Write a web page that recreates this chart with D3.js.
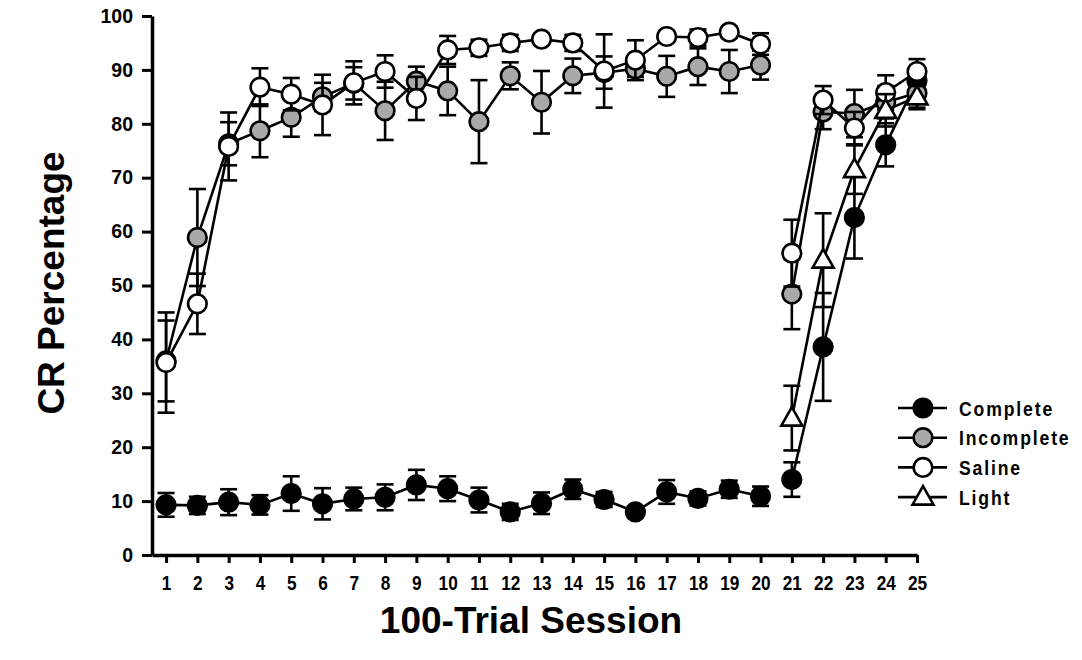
<!DOCTYPE html>
<html>
<head>
<meta charset="utf-8">
<script src="https://cdn.jsdelivr.net/npm/d3@7"></script>
<style>
  html, body { margin: 0; padding: 0; background: #fff; }
  svg { display: block; }
</style>
</head>
<body>
<svg id="chart" width="1082" height="660"></svg>
<script>
// ---------------- data ----------------
const sessions = d3.range(1, 26);
const yTicks = [0, 10, 20, 30, 40, 50, 60, 70, 80, 90, 100];
const seriesNames = ["Complete", "Incomplete", "Saline", "Light"];

const completeMean = [9.3, 9.2, 9.8, 9.3, 11.4, 9.5, 10.4, 10.7, 13.0, 12.3, 10.2, 8.0, 9.6, 12.2, 10.3, 8.0, 11.7, 10.5, 12.2, 10.9, 14.0, 38.6, 62.6, 76.1, 88.0];
const completeErr  = [2.2, 1.6, 2.4, 1.8, 3.2, 2.9, 2.1, 2.4, 2.8, 2.3, 2.3, 1.5, 2.0, 1.8, 1.4, 1.0, 2.2, 1.3, 1.6, 1.8, 3.2, 10.0, 7.6, 4.0, 2.0];

const incompleteMean = [36.0, 58.9, 76.3, 78.7, 81.2, 85.0, 87.5, 82.4, 87.9, 86.1, 80.4, 88.9, 84.0, 88.9, 89.5, 90.2, 88.8, 90.6, 89.7, 90.9, 48.4, 82.2, 81.9, 84.0, 85.7];
const incompleteErr  = [7.5, 9.0, 4.0, 4.9, 3.6, 2.6, 3.0, 5.4, 2.7, 4.5, 7.7, 2.5, 5.8, 3.2, 3.0, 1.5, 3.8, 3.4, 4.0, 2.7, 6.5, 3.2, 4.4, 3.0, 3.0];

const salineMean = [35.7, 46.6, 75.8, 86.8, 85.5, 83.5, 87.6, 89.7, 84.7, 93.7, 94.1, 95.0, 95.7, 95.0, 89.8, 91.8, 96.2, 96.0, 97.0, 94.8, 56.0, 84.4, 79.2, 85.8, 89.7];
const salineErr  = [9.3, 5.6, 6.3, 3.5, 3.0, 5.6, 4.0, 3.0, 4.0, 2.6, 1.5, 1.5, 1.0, 1.5, 6.8, 3.7, 1.0, 1.5, 1.0, 2.0, 6.2, 2.6, 3.0, 3.2, 2.3];

const lightSessions = [21, 22, 23, 24, 25];
const lightMean = [25.4, 54.7, 71.5, 82.5, 85.0];
const lightErr  = [6.0, 8.7, 4.5, 3.0, 2.0];

// sessions are plotted in two separate runs (acquisition 1-20, test 21-25)
const phaseBreak = 20;

// ---------------- layout ----------------
const svg = d3.select("#chart");
const x = d3.scaleLinear().domain([0.55, 25]).range([152, 917]);
const y = d3.scaleLinear().domain([0, 100]).range([555, 16]);

const font = "'Liberation Sans', Arial, sans-serif";

// axes
const yAxis = d3.axisLeft(y).tickValues(yTicks).tickSize(10).tickSizeOuter(0).tickPadding(9);
const gy = svg.append("g").attr("transform", `translate(${x.range()[0]},0)`).call(yAxis);
gy.select(".domain").attr("stroke", "#000").attr("stroke-width", 3.5);
gy.selectAll(".tick line").attr("stroke", "#000").attr("stroke-width", 3);
gy.selectAll(".tick text")
  .attr("font-family", font)
  .attr("font-weight", "bold").attr("font-size", 19.5).attr("fill", "#000");

const xAxis = d3.axisBottom(x).tickValues(sessions).tickSize(8).tickSizeOuter(0).tickPadding(12);
const gx = svg.append("g").attr("transform", `translate(0,${y.range()[0]})`).call(xAxis);
gx.select(".domain").attr("stroke", "#000").attr("stroke-width", 3.5);
gx.selectAll(".tick line").attr("stroke", "#000").attr("stroke-width", 3);
gx.selectAll(".tick text")
  .attr("font-family", font)
  .attr("font-weight", "bold").attr("font-size", 21).attr("fill", "#000")
  .attr("transform", "scale(0.82,1)");

// axis titles
svg.append("text")
  .attr("x", 531).attr("y", 633)
  .attr("text-anchor", "middle")
  .attr("font-family", font)
  .attr("font-weight", "bold").attr("font-size", 37)
  .text("100-Trial Session");

svg.append("text")
  .attr("transform", "translate(64,283) rotate(-90)")
  .attr("text-anchor", "middle")
  .attr("font-family", font)
  .attr("font-weight", "bold").attr("font-size", 37)
  .text("CR Percentage");

// ---------------- series ----------------
const trianglePath = "M0,-11 L10.5,7.5 L-10.5,7.5 Z";

function buildSeries(xs, means, errs) {
  return xs.map((s, i) => ({ s: s, m: means[i], e: errs[i] }));
}

const series = [
  { name: seriesNames[0], fill: "#000000", shape: "circle", data: buildSeries(sessions, completeMean, completeErr) },
  { name: seriesNames[1], fill: "#a9a9a9", shape: "circle", data: buildSeries(sessions, incompleteMean, incompleteErr) },
  { name: seriesNames[2], fill: "#ffffff", shape: "circle", data: buildSeries(sessions, salineMean, salineErr) },
  { name: seriesNames[3], fill: "#ffffff", shape: "triangle", data: buildSeries(lightSessions, lightMean, lightErr) }
];

const line = d3.line().x(d => x(d.s)).y(d => y(d.m));
const capHalf = 8.5;

series.forEach(ser => {
  const g = svg.append("g");
  const eb = g.append("g").attr("stroke", "#000").attr("stroke-width", 2.6).attr("fill", "none");
  ser.data.forEach(d => {
    const cx = x(d.s), top = y(d.m + d.e), bot = y(d.m - d.e);
    eb.append("line").attr("x1", cx).attr("x2", cx).attr("y1", top).attr("y2", bot);
    eb.append("line").attr("x1", cx - capHalf).attr("x2", cx + capHalf).attr("y1", top).attr("y2", top);
    eb.append("line").attr("x1", cx - capHalf).attr("x2", cx + capHalf).attr("y1", bot).attr("y2", bot);
  });
  const segs = [ser.data.filter(d => d.s <= phaseBreak), ser.data.filter(d => d.s > phaseBreak)];
  segs.filter(sg => sg.length > 1).forEach(sg => {
    g.append("path").attr("d", line(sg))
      .attr("fill", "none").attr("stroke", "#000").attr("stroke-width", 2.6);
  });
  ser.data.forEach(d => {
    if (ser.shape === "circle") {
      g.append("circle").attr("cx", x(d.s)).attr("cy", y(d.m)).attr("r", 9.3)
        .attr("fill", ser.fill).attr("stroke", "#000").attr("stroke-width", 2.6);
    } else {
      g.append("path").attr("d", trianglePath)
        .attr("transform", `translate(${x(d.s)},${y(d.m)})`)
        .attr("fill", ser.fill).attr("stroke", "#000").attr("stroke-width", 2.6);
    }
  });
});

// ---------------- legend ----------------
const legend = svg.append("g").attr("transform", "translate(898,408)");
series.forEach((ser, i) => {
  const row = legend.append("g").attr("transform", `translate(0,${i * 29.7})`);
  row.append("line").attr("x1", 0).attr("x2", 49).attr("y1", 0).attr("y2", 0)
    .attr("stroke", "#000").attr("stroke-width", 2.6);
  if (ser.shape === "circle") {
    row.append("circle").attr("cx", 25).attr("cy", 0).attr("r", 9.3)
      .attr("fill", ser.fill).attr("stroke", "#000").attr("stroke-width", 2.6);
  } else {
    row.append("path").attr("d", trianglePath).attr("transform", "translate(25,0)")
      .attr("fill", ser.fill).attr("stroke", "#000").attr("stroke-width", 2.6);
  }
  row.append("text")
    .attr("transform", "translate(61,0) scale(0.84,1)")
    .attr("dy", "0.36em")
    .attr("font-family", font)
    .attr("font-weight", "bold").attr("font-size", 21)
    .attr("letter-spacing", 2.2)
    .text(ser.name);
});
</script>
</body>
</html>
